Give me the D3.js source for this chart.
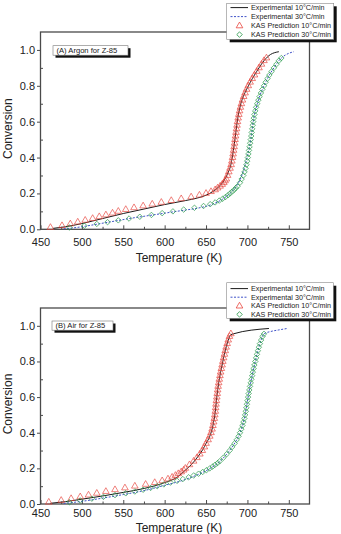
<!DOCTYPE html>
<html>
<head>
<meta charset="utf-8">
<script src="https://d3js.org/d3.v7.min.js"></script>
<style>
  html, body { margin:0; padding:0; background:#fff; }
  svg { display:block; font-family:'Liberation Sans', Arial, sans-serif; }
</style>
</head>
<body>
<div id="chart"></div>
<script>
// ---- data: [temperature K, conversion] ----
var argonExp10 = [[465,0.005],[480,0.014],[500,0.032],[525,0.06],[550,0.088],[575,0.113],[600,0.138],[625,0.16],[640,0.175],[650,0.19],[658,0.21],[665,0.235],[670,0.26],[674,0.29],[677,0.32],[680,0.36],[682,0.41],[684,0.47],[686,0.54],[688,0.61],[690,0.66],[692,0.7],[695,0.74],[699,0.78],[703.5,0.82],[708.5,0.86],[714,0.9],[720,0.94],[724,0.96],[728,0.975],[733,0.985],[738,0.99]];
var argonExp30 = [[478,0.003],[490,0.008],[505,0.018],[520,0.03],[540,0.046],[560,0.062],[580,0.076],[600,0.09],[620,0.104],[640,0.118],[650,0.128],[658,0.14],[665,0.155],[670,0.168],[675,0.185],[680,0.205],[684,0.225],[688,0.25],[691,0.275],[694,0.31],[697,0.355],[700,0.41],[702.5,0.46],[705,0.53],[707,0.6],[709,0.65],[712,0.7],[715,0.745],[718,0.78],[722,0.82],[726.5,0.86],[732,0.9],[738,0.94],[741,0.955],[746,0.972],[751,0.983],[756,0.99]];
var argonKas10 = [[462,0.01],[476,0.02],[486,0.03],[495,0.04],[504,0.05],[513,0.06],[521,0.07],[529,0.08],[537,0.09],[544,0.10],[553,0.11],[563,0.12],[574,0.13],[585,0.14],[596,0.15],[608,0.16],[620,0.17],[632,0.18],[642,0.19],[650,0.20],[656,0.21],[661,0.22],[664,0.23],[667,0.24],[669.5,0.25],[671.5,0.26],[673,0.27],[674.5,0.28],[676,0.30],[677.5,0.32],[679,0.34],[680.3,0.36],[681.2,0.38],[682,0.40],[682.7,0.42],[683.3,0.44],[683.9,0.46],[684.5,0.48],[685,0.50],[685.6,0.52],[686.2,0.54],[686.8,0.56],[687.4,0.58],[688,0.60],[688.8,0.62],[689.6,0.64],[690.5,0.66],[691.5,0.68],[692.7,0.70],[694,0.72],[695.5,0.74],[697.2,0.76],[699,0.78],[701,0.80],[703.3,0.82],[705.8,0.84],[708.5,0.86],[711.3,0.88],[714,0.90],[717,0.92],[720,0.94],[723,0.955]];
var argonKas30 = [[485,0.01],[503,0.02],[518,0.03],[531,0.04],[544,0.05],[557,0.06],[570,0.07],[584,0.08],[597,0.09],[610,0.10],[623,0.11],[636,0.12],[647,0.13],[655,0.14],[661,0.15],[666,0.16],[670,0.17],[673.5,0.18],[676.5,0.19],[679,0.20],[681.5,0.21],[684,0.22],[686,0.23],[688,0.24],[691,0.26],[693,0.28],[695,0.30],[696.5,0.32],[697.7,0.34],[698.8,0.36],[699.7,0.38],[700.5,0.40],[701.2,0.42],[701.9,0.44],[702.6,0.46],[703.3,0.48],[704,0.50],[704.6,0.52],[705.2,0.54],[705.8,0.56],[706.4,0.58],[707,0.60],[707.7,0.62],[708.5,0.64],[709.4,0.66],[710.5,0.68],[711.8,0.70],[713.2,0.72],[714.7,0.74],[716.3,0.76],[718,0.78],[720,0.80],[722,0.82],[724.2,0.84],[726.5,0.86],[729.2,0.88],[732,0.90],[735,0.92],[738,0.94],[741,0.955]];

var airExp10 = [[462,0.004],[480,0.013],[500,0.027],[525,0.045],[550,0.065],[575,0.087],[600,0.12],[615,0.15],[625,0.19],[632,0.22],[640,0.265],[646,0.305],[650,0.34],[654.5,0.38],[658.3,0.44],[661.2,0.52],[663,0.6],[665.3,0.68],[668.5,0.76],[672.2,0.84],[676.8,0.92],[680,0.95],[683,0.955],[726,0.985]];
var airExp30 = [[478,0.003],[500,0.015],[525,0.033],[550,0.053],[575,0.075],[600,0.105],[620,0.13],[640,0.165],[655,0.2],[667,0.24],[675,0.28],[681.5,0.32],[687,0.36],[691,0.4],[696.3,0.48],[699.4,0.56],[702.3,0.64],[705.7,0.72],[709.5,0.8],[713.8,0.88],[716.5,0.92],[720,0.955],[728,0.968],[738,0.977],[748,0.985]];
var airKas10 = [[460,0.01],[475,0.02],[487,0.03],[498,0.04],[508,0.05],[518,0.06],[529,0.07],[540,0.08],[552,0.09],[564,0.10],[577,0.11],[588,0.12],[597,0.13],[604,0.14],[609,0.15],[613,0.16],[616.5,0.17],[620,0.18],[623,0.19],[625,0.20],[630,0.22],[635,0.24],[639,0.26],[642.5,0.28],[645.5,0.30],[648,0.32],[650,0.34],[652.5,0.36],[654.5,0.38],[656,0.40],[657.3,0.42],[658.3,0.44],[659.2,0.46],[660,0.48],[660.6,0.50],[661.2,0.52],[661.6,0.54],[662,0.56],[662.5,0.58],[663,0.60],[663.5,0.62],[664,0.64],[664.6,0.66],[665.3,0.68],[666,0.70],[666.8,0.72],[667.6,0.74],[668.5,0.76],[669.4,0.78],[670.3,0.80],[671.2,0.82],[672.2,0.84],[673.2,0.86],[674.3,0.88],[675.5,0.90],[676.8,0.92],[678.3,0.94],[680,0.955]];
var airKas30 = [[485,0.01],[498,0.02],[512,0.03],[526,0.04],[540,0.05],[553,0.06],[564,0.07],[574,0.08],[583,0.09],[591,0.10],[599,0.11],[607,0.12],[615,0.13],[622,0.14],[629,0.15],[635,0.16],[641,0.17],[646,0.18],[650.5,0.19],[654.5,0.20],[658,0.21],[661,0.22],[664,0.23],[666.5,0.24],[671,0.26],[675,0.28],[678.5,0.30],[681.5,0.32],[684.5,0.34],[687,0.36],[689.3,0.38],[691,0.40],[692.6,0.42],[694,0.44],[695.2,0.46],[696.3,0.48],[697.2,0.50],[698,0.52],[698.7,0.54],[699.4,0.56],[700.1,0.58],[700.8,0.60],[701.5,0.62],[702.3,0.64],[703.1,0.66],[704,0.68],[704.8,0.70],[705.7,0.72],[706.5,0.74],[707.4,0.76],[708.4,0.78],[709.5,0.80],[710.5,0.82],[711.5,0.84],[712.6,0.86],[713.8,0.88],[715.1,0.90],[716.5,0.92],[718.2,0.94],[720,0.955]];

var xTicks = [450, 500, 550, 600, 650, 700, 750];
var xMinor = [475, 525, 575, 625, 675, 725];
var yTicks = [0, 0.2, 0.4, 0.6, 0.8, 1.0];
var yMinor = [0.1, 0.3, 0.5, 0.7, 0.9];
var legendLabels = ["Experimental 10\u00b0C/min", "Experimental 30\u00b0C/min", "KAS Prediction 10\u00b0C/min", "KAS Prediction 30\u00b0C/min"];

var W = 341, H = 534;
var RED = "#e8463f", GREEN = "#2a9a4c", BLUE = "#3f52c8", FRAME = "#4a4a4a";

var svg = d3.select("#chart").append("svg").attr("width", W).attr("height", H);

var panels = [
  {title: "(A) Argon for Z-85", top: 32, bottom: 229.3, exp10: argonExp10, exp30: argonExp30, kas10: argonKas10, kas30: argonKas30,
   tickY: 246, xTitleY: 262, titleBox: [53, 45.7, 75, 9.5], legendBox: [226.7, 3.3, 107, 36], legendRow0: 7.6, legendStep: 9},
  {title: "(B) Air for Z-85", top: 308, bottom: 504, exp10: airExp10, exp30: airExp30, kas10: airKas10, kas30: airKas30,
   tickY: 517, xTitleY: 531.5, titleBox: [52, 321, 61, 9.2], legendBox: [226.7, 282.7, 106.6, 35.6], legendRow0: 288.6, legendStep: 8.6}
];

panels.forEach(function(p) {
  var x = d3.scaleLinear().domain([450, 775]).range([40.5, 309.5]);
  var y = d3.scaleLinear().domain([0, 1.1]).range([p.bottom, p.top]);
  var g = svg.append("g");

  // x axis: ticks inward
  var xAxis = g.append("g").attr("transform", "translate(0," + p.bottom + ")")
    .call(d3.axisBottom(x).tickValues(xTicks).tickSizeInner(-4).tickSizeOuter(0).tickFormat(d3.format("d")));
  xAxis.select(".domain").remove();
  xAxis.selectAll("line").attr("stroke", FRAME);
  xAxis.selectAll("text").attr("y", p.tickY - p.bottom).attr("dy", 0).attr("font-size", 11).attr("fill", "#222");
  g.append("g").attr("transform", "translate(0," + p.bottom + ")")
    .call(d3.axisBottom(x).tickValues(xMinor).tickSizeInner(-2.5).tickSizeOuter(0).tickFormat(""))
    .call(function(s) { s.select(".domain").remove(); s.selectAll("line").attr("stroke", FRAME); });

  // y axis: major ticks out, minor ticks in
  var yAxis = g.append("g").attr("transform", "translate(40.5,0)")
    .call(d3.axisLeft(y).tickValues(yTicks).tickSizeInner(3.5).tickSizeOuter(0).tickPadding(2).tickFormat(d3.format(".1f")));
  yAxis.select(".domain").remove();
  yAxis.selectAll("line").attr("stroke", FRAME);
  yAxis.selectAll("text").attr("font-size", 11).attr("fill", "#222");
  g.append("g").attr("transform", "translate(40.5,0)")
    .call(d3.axisLeft(y).tickValues(yMinor).tickSizeInner(-2.5).tickSizeOuter(0).tickFormat(""))
    .call(function(s) { s.select(".domain").remove(); s.selectAll("line").attr("stroke", FRAME); });

  // frame
  g.append("rect").attr("x", x(450)).attr("y", p.top).attr("width", x(775) - x(450)).attr("height", p.bottom - p.top)
    .attr("fill", "none").attr("stroke", FRAME).attr("stroke-width", 1.3);

  // axis titles
  g.append("text").attr("x", 179).attr("y", p.xTitleY).attr("text-anchor", "middle")
    .attr("font-size", 12).attr("fill", "#222").text("Temperature (K)");
  g.append("text").attr("transform", "translate(12," + ((p.top + p.bottom) / 2 - 2) + ") rotate(-90)")
    .attr("text-anchor", "middle").attr("font-size", 12).attr("fill", "#222").text("Conversion");

  var line = d3.line().x(function(d) { return x(d[0]); }).y(function(d) { return y(d[1]); }).curve(d3.curveMonotoneX);

  g.append("path").datum(p.exp10).attr("d", line).attr("fill", "none").attr("stroke", "#1a1a1a").attr("stroke-width", 1);
  g.append("path").datum(p.exp30).attr("d", line).attr("fill", "none").attr("stroke", BLUE).attr("stroke-width", 1)
    .attr("stroke-dasharray", "2,1.5");

  var tri = d3.symbol().type(d3.symbolTriangle).size(19);
  var dia = d3.symbol().type(d3.symbolSquare).size(15);

  g.selectAll(".tri").data(p.kas10).enter().append("path").attr("class", "tri")
    .attr("transform", function(d) { return "translate(" + x(d[0]) + "," + y(d[1]) + ")"; })
    .attr("d", tri).attr("fill", "none").attr("stroke", RED).attr("stroke-width", 0.8).attr("stroke-opacity", 0.85);
  g.selectAll(".dia").data(p.kas30).enter().append("path").attr("class", "dia")
    .attr("transform", function(d) { return "translate(" + x(d[0]) + "," + y(d[1]) + ") rotate(45)"; })
    .attr("d", dia).attr("fill", "none").attr("stroke", GREEN).attr("stroke-width", 0.8).attr("stroke-opacity", 0.85);

  // title box with shadow
  var tb = p.titleBox;
  g.append("rect").attr("x", tb[0] + 2.5).attr("y", tb[1] + 2.5).attr("width", tb[2]).attr("height", tb[3]).attr("fill", "#111");
  g.append("rect").attr("x", tb[0]).attr("y", tb[1]).attr("width", tb[2]).attr("height", tb[3])
    .attr("fill", "#fff").attr("stroke", "#777").attr("stroke-width", 0.6);
  g.append("text").attr("x", tb[0] + 3.5).attr("y", tb[1] + tb[3] - 2.2).attr("font-size", 7.6).attr("fill", "#222").text(p.title);

  // legend
  var lb = p.legendBox;
  var lg = g.append("g");
  lg.append("rect").attr("x", lb[0] + 3).attr("y", lb[1] + 3).attr("width", lb[2]).attr("height", lb[3]).attr("fill", "#111");
  lg.append("rect").attr("x", lb[0]).attr("y", lb[1]).attr("width", lb[2]).attr("height", lb[3])
    .attr("fill", "#fff").attr("stroke", "#888").attr("stroke-width", 0.6);
  legendLabels.forEach(function(lbl, i) {
    var ry = p.legendRow0 + i * p.legendStep;
    if (i === 0) {
      lg.append("line").attr("x1", 230.5).attr("x2", 248).attr("y1", ry).attr("y2", ry).attr("stroke", "#1a1a1a").attr("stroke-width", 1);
    } else if (i === 1) {
      lg.append("line").attr("x1", 230.5).attr("x2", 248).attr("y1", ry).attr("y2", ry).attr("stroke", BLUE)
        .attr("stroke-width", 1).attr("stroke-dasharray", "2,1.5");
    } else if (i === 2) {
      lg.append("path").attr("transform", "translate(239.5," + (ry + 0.3) + ")").attr("d", tri)
        .attr("fill", "none").attr("stroke", RED).attr("stroke-width", 0.8);
    } else {
      lg.append("path").attr("transform", "translate(239.5," + ry + ") rotate(45)").attr("d", dia)
        .attr("fill", "none").attr("stroke", GREEN).attr("stroke-width", 0.8);
    }
    lg.append("text").attr("x", 251).attr("y", ry + 2.6).attr("font-size", 7.2).attr("fill", "#222").text(lbl);
  });
});
</script>
</body>
</html>
